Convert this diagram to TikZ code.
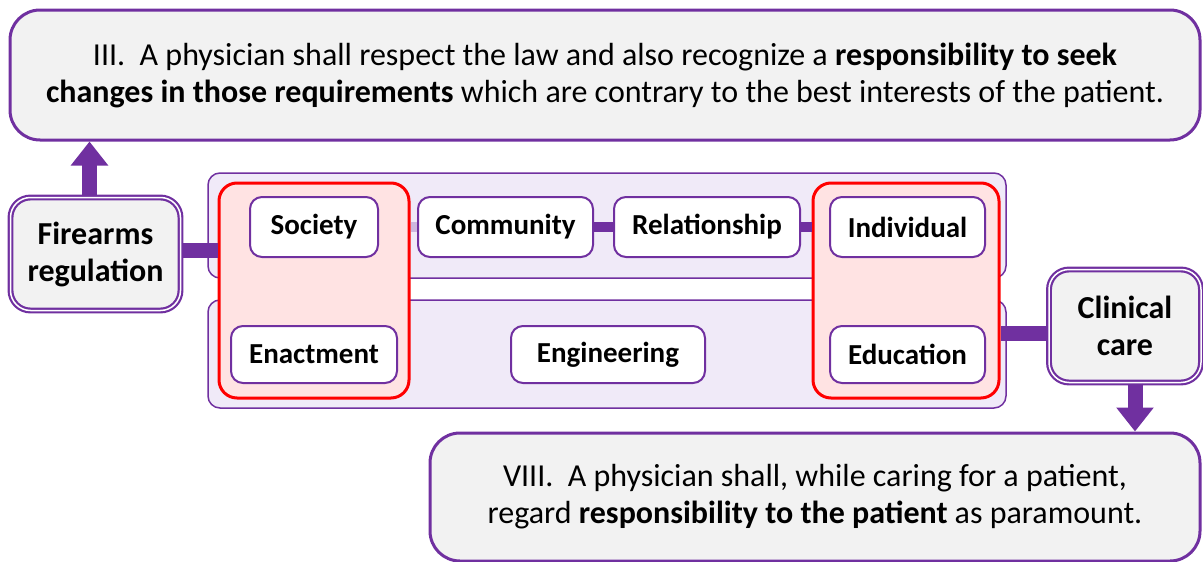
\documentclass[tikz,border=0pt]{standalone}
\usepackage{fontspec}
\setmainfont{Carlito}
\usetikzlibrary{arrows.meta}

\definecolor{ppl}{HTML}{7030A0}
\definecolor{lav}{HTML}{F0EAF8}
\definecolor{pinkish}{HTML}{FFE3E3}
\definecolor{grayfill}{HTML}{F2F2F2}

\begin{document}
\begin{tikzpicture}[x=1pt,y=-1pt,
    textbox/.style={rectangle, rounded corners=30pt, draw=ppl, line width=3pt, fill=grayfill, align=center, font=\fontsize{32}{37}\selectfont},
    topicbox/.style={rectangle, rounded corners=20pt, draw=ppl, line width=2.2pt, double=white, double distance=1.5pt, fill=grayfill, align=center, font=\bfseries\fontsize{32}{37}\selectfont},
    frame/.style={rectangle, rounded corners=12pt, draw=ppl, line width=1.5pt, fill=lav},
    redbox/.style={rectangle, rounded corners=18pt, draw=red, line width=3pt, fill=pinkish},
    level/.style={rectangle, rounded corners=12pt, draw=ppl, line width=2pt, fill=white, font=\bfseries\fontsize{29}{32}\selectfont},
    bar/.style={ppl, line width=15pt},
    bigarrow/.style={ppl, line width=15pt, -{Triangle[width=36pt,length=24pt]}}]

    \useasboundingbox (0,0) rectangle (1203,562);

    \node[textbox, minimum width=1190pt, minimum height=130pt] (law) at (605,75) {III.\ \ A physician shall respect the law and also recognize a \textbf{responsibility to seek}\\ \textbf{changes in those requirements} which are contrary to the best interests of the patient.};
    \node[textbox, minimum width=770pt, minimum height=128pt] (patient) at (815,497) {VIII.\ \ A physician shall, while caring for a patient,\\ regard \textbf{responsibility to the patient} as paramount.};

    \node[frame, minimum width=798pt, minimum height=105pt] (upper) at (607,225.5) {};
    \node[frame, minimum width=798pt, minimum height=108pt] (lower) at (607,354) {};

    \node[redbox, minimum width=190pt, minimum height=215pt] (redl) at (314,290.5) {};
    \node[redbox, minimum width=186pt, minimum height=215pt] (redr) at (906,290.5) {};

    \node[level, minimum width=128pt, minimum height=60pt] (society) at (314,227) {Society};
    \node[level, minimum width=175pt, minimum height=60pt] (community) at (505.5,227) {Community};
    \node[level, minimum width=186pt, minimum height=60pt] (relationship) at (707,227) {Relationship};
    \node[level, minimum width=155pt, minimum height=60pt] (individual) at (907.5,227) {Individual};
    \node[level, minimum width=166pt, minimum height=57pt] (enactment) at (314,354.5) {Enactment};
    \node[level, minimum width=194pt, minimum height=57pt] (engineering) at (608,354.5) {Engineering};
    \node[level, minimum width=155pt, minimum height=57pt] (education) at (907.5,354.5) {Education};

    \node[topicbox, minimum width=170pt, minimum height=113pt] (firearms) at (95.5,254) {Firearms\\regulation};
    \node[topicbox, minimum width=152pt, minimum height=113pt] (clinical) at (1125,326) {Clinical\\care};

    \draw[ppl!35, line width=10pt] (redl.east |- community) -- (community.west);
    \draw[ppl, line width=10pt] (community) -- (relationship);
    \draw[ppl, line width=10pt] (relationship) -- (redr.west |- relationship);

    \draw[bar] ([yshift=4pt]firearms.east) -- ([yshift=4pt]firearms.east -| redl.west);
    \draw[bar] ([yshift=-7pt]clinical.west) -- ([yshift=-7pt]clinical.west -| redr.east);

    \draw[bigarrow] ([xshift=-6pt]firearms.north) -- ([xshift=-6pt]firearms.north |- law.south);
    \draw[bigarrow] ([xshift=10pt]clinical.south) -- ([xshift=10pt]clinical.south |- patient.north);

\end{tikzpicture}
\end{document}
